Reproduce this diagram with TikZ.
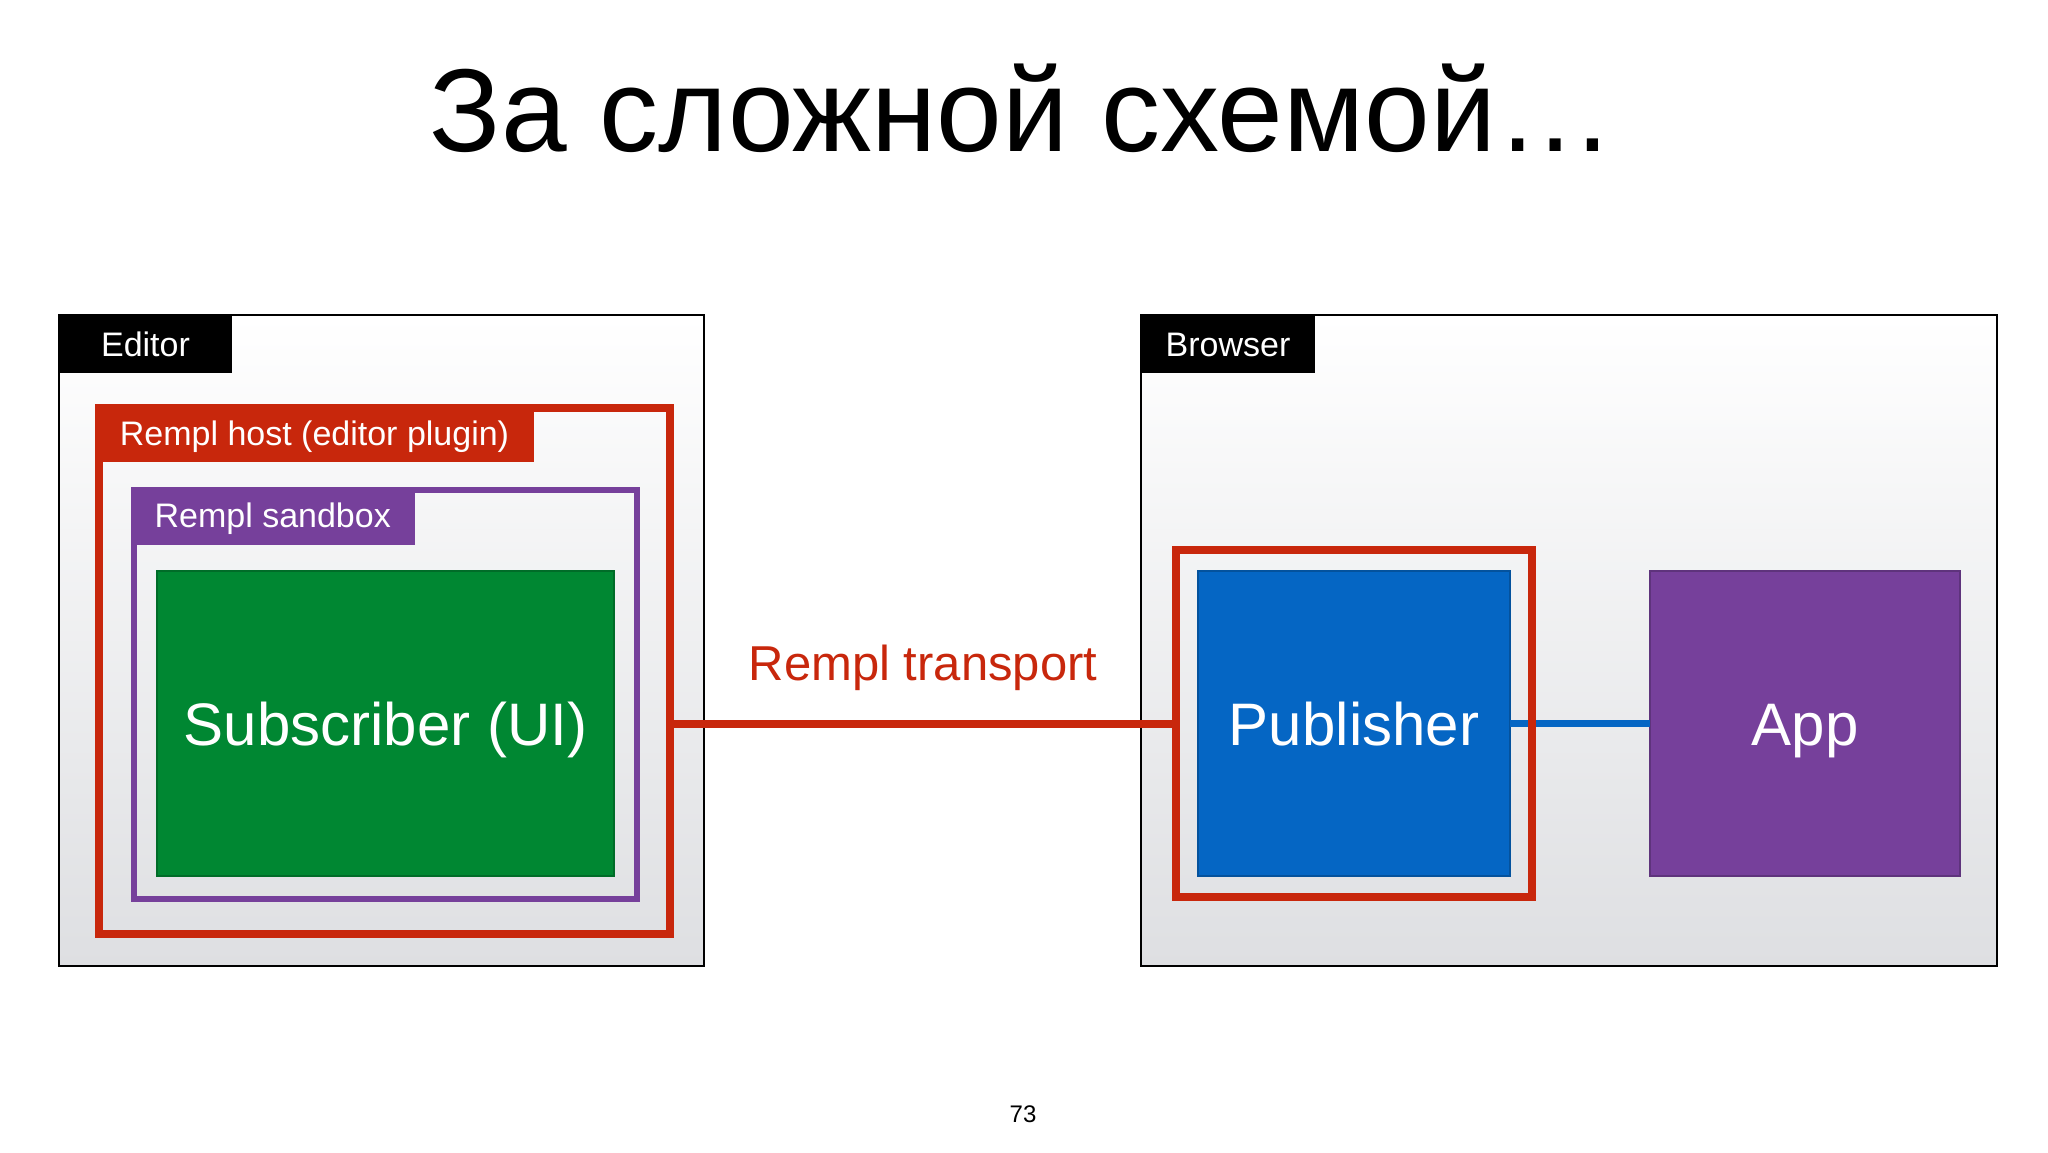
\documentclass[tikz,border=0pt]{standalone}
\usepackage{fontspec}
\setmainfont{Liberation Sans}
\usetikzlibrary{positioning}

\definecolor{remplred}{RGB}{200,39,12}
\definecolor{remplpurple}{RGB}{118,64,155}
\definecolor{subgreen}{RGB}{0,135,50}
\definecolor{pubblue}{RGB}{5,102,196}
\definecolor{panelgray}{RGB}{222,223,226}

\begin{document}
\begin{tikzpicture}[
        x=1pt, y=-1pt,
        every node/.style={inner sep=0pt, outer sep=0pt},
        caps/.style={text height=#1, text depth=0pt},
        env/.style={draw=black, line width=2, top color=white, bottom color=panelgray},
        tag/.style={caps=24.3, minimum height=58, text=white, font=\fontsize{34}{40}\selectfont},
        frame/.style={draw=#1, line width=8},
        block/.style={caps=43, fill=#1, draw=#1!80!black, line width=1.5, text=white,
            minimum width=312, minimum height=305, font=\fontsize{60}{70}\selectfont}
    ]
        \useasboundingbox[fill=white] (0,0) rectangle (2048,1152);

        % Заголовок
        \node[anchor=base, font=\fontsize{118}{140}\selectfont] (title) at (1022,151) {За сложной схемой…};

        % Editor
        \node[env, minimum width=645, minimum height=651] (editor) at (381.5,640.5) {};
        \node[tag, fill=black, minimum width=173, anchor=north west] (editortag) at (editor.north west) {Editor};
        \node[frame=remplred, minimum width=571, minimum height=526] (host) at (384.5,671) {};
        \node[tag, fill=remplred, minimum width=439, anchor=north west, xshift=-4, yshift=4] (hosttag) at (host.north west) {Rempl host (editor plugin)};
        \node[frame=remplpurple, line width=6.5, minimum width=503, minimum height=409] (sandbox) at (385.5,694.5) {};
        \node[tag, fill=remplpurple, minimum width=284, anchor=north west, xshift=-3.25, yshift=3.25] (sandboxtag) at (sandbox.north west) {Rempl sandbox};
        \node[block=subgreen, minimum width=457] (subscriber) at (385.5,723.5) {Subscriber (UI)};

        % Browser
        \node[env, minimum width=856, minimum height=651] (browser) at (1569,640.5) {};
        \node[tag, fill=black, minimum width=174, anchor=north west] (browsertag) at (browser.north west) {Browser};
        \node[block=pubblue] (publisher) at (1354,723.5) {Publisher};
        \node[block=remplpurple, minimum width=310] (app) at (1805,723.5) {App};
        \draw[pubblue, line width=7.5] (publisher.east) -- (app.west);
        \node[frame=remplred, minimum width=356, minimum height=347] (pubframe) at (publisher) {};

        % Связь
        \draw[remplred, line width=8] (host.east |- pubframe.west) -- (pubframe.west);
        \node[caps=35, text=remplred, font=\fontsize{49}{58}\selectfont] (transport) at (923,663) {Rempl transport};

        \node[font=\fontsize{24}{28}\selectfont] (pagenum) at (1023,1114) {73};
    \end{tikzpicture}
\end{document}
